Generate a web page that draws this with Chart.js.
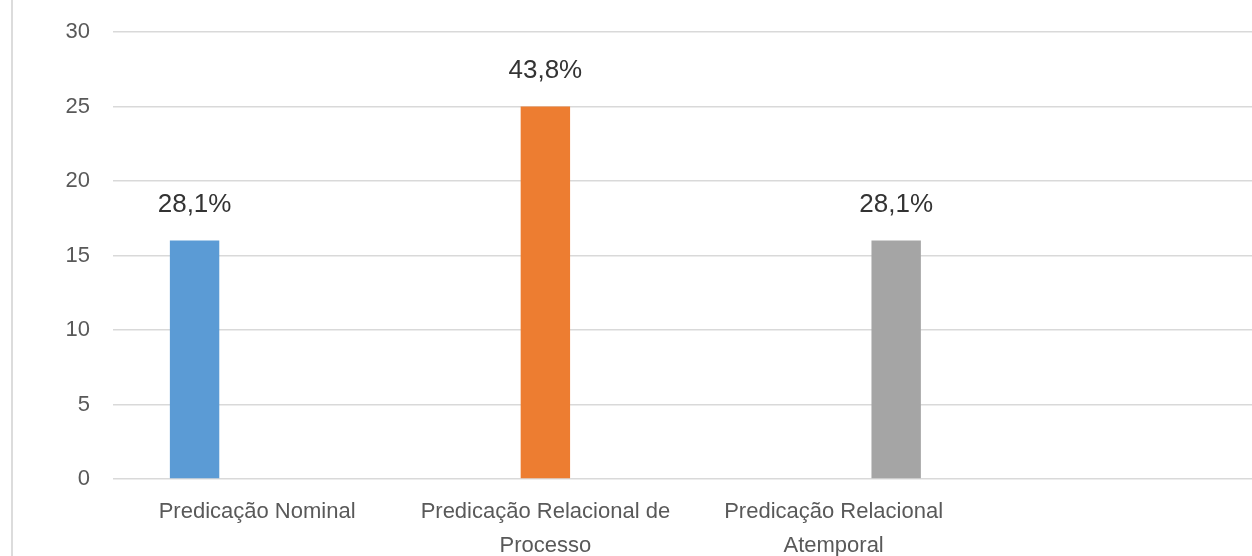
<!DOCTYPE html>
<html>
<head>
<meta charset="utf-8">
<script src="https://cdn.jsdelivr.net/npm/chart.js@4/dist/chart.umd.min.js"></script>
<style>
  html, body { margin: 0; padding: 0; background: #fff; }
  #wrap { width: 1252px; height: 556px; overflow: hidden; position: relative; }
</style>
</head>
<body>
<div id="wrap">
  <canvas id="chart" width="1266" height="556"></canvas>
</div>
<script>
const categories = [
  'Predicação Nominal',
  ['Predicação Relacional de', 'Processo'],
  ['Predicação Relacional', 'Atemporal'],
  ''
];
const values = [16, 25, 16];
const pctLabels = ['28,1%', '43,8%', '28,1%'];
const colors = ['#5B9BD5', '#ED7D31', '#A5A5A5'];
const yTicks = [0, 5, 10, 15, 20, 25, 30];

const FONT = "'Liberation Sans', Arial, sans-serif";

// each series only has a value in its own category (Excel style clustered bars)
const datasets = values.map((v, i) => ({
  label: Array.isArray(categories[i]) ? categories[i].join(' ') : categories[i],
  data: categories.map((_, j) => (j === i ? v : null)),
  backgroundColor: colors[i],
  borderWidth: 0,
  categoryPercentage: 0.651,
  barPercentage: 0.79,
}));

const leftLine = {
  id: 'leftLine',
  beforeDraw(chart) {
    const ctx = chart.ctx;
    ctx.save();
    ctx.fillStyle = '#dcdcdc';
    ctx.fillRect(11, 0, 2, chart.height);
    ctx.restore();
  },
};

const barLabels = {
  id: 'barLabels',
  afterDatasetsDraw(chart) {
    const ctx = chart.ctx;
    ctx.save();
    ctx.font = '26px ' + FONT;
    ctx.fillStyle = '#333333';
    ctx.textAlign = 'center';
    ctx.textBaseline = 'alphabetic';
    chart.data.datasets.forEach((ds, i) => {
      const meta = chart.getDatasetMeta(i);
      meta.data.forEach((el, j) => {
        if (ds.data[j] == null) return;
        ctx.fillText(pctLabels[i], el.x, el.y - 29);
      });
    });
    ctx.restore();
  },
};

new Chart(document.getElementById('chart'), {
  type: 'bar',
  data: { labels: categories, datasets: datasets },
  options: {
    responsive: false,
    animation: false,
    layout: { padding: { top: 32, right: 0, bottom: 0, left: 0 } },
    plugins: {
      legend: { display: false },
      tooltip: { enabled: false },
    },
    scales: {
      x: {
        grid: { display: false },
        border: { display: false },
        ticks: {
          color: '#595959',
          font: { family: FONT, size: 22, lineHeight: 1.55 },
          padding: 8,
          maxRotation: 0,
          autoSkip: false,
        },
        afterFit(scale) { scale.height = 77; },
      },
      y: {
        min: 0,
        max: 30,
        afterBuildTicks(scale) { scale.ticks = yTicks.map(v => ({ value: v })); },
        grid: { color: '#d9d9d9', lineWidth: 1.5, drawTicks: false },
        border: { display: false },
        ticks: {
          color: '#595959',
          font: { family: FONT, size: 22 },
          padding: 23,
        },
        afterFit(scale) {
          scale.width = 113;
          scale.paddingTop = 0;
          scale.paddingBottom = 0;
        },
      },
    },
  },
  plugins: [leftLine, barLabels],
});
</script>
</body>
</html>
